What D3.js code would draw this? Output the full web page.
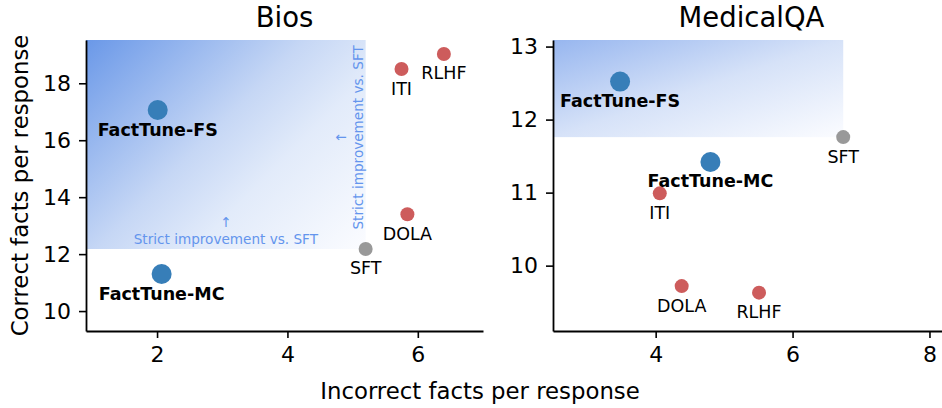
<!DOCTYPE html>
<html>
<head>
<meta charset="utf-8">
<script src="https://cdn.jsdelivr.net/npm/d3@7"></script>
<style>
  body { margin: 0; background: #fff; }
  svg text { font-family: "DejaVu Sans", sans-serif; }
</style>
</head>
<body>
<div id="chart-area"></div>
<script>
// values
const methods = ["FactTune-FS", "FactTune-MC", "ITI", "RLHF", "DOLA", "SFT"];
const methodKind = ["ours", "ours", "baseline", "baseline", "baseline", "sft"];

const biosIncorrect = [2.01, 2.07, 5.75, 6.40, 5.84, 5.20];
const biosCorrect   = [17.06, 11.30, 18.50, 19.03, 13.40, 12.18];

const medIncorrect = [3.48, 4.80, 4.06, 5.51, 4.38, 6.74];
const medCorrect   = [12.52, 11.42, 10.99, 9.63, 9.72, 11.76];

const biosXTicks = [2, 4, 6];
const biosYTicks = [10, 12, 14, 16, 18];
const medXTicks = [4, 6, 8];
const medYTicks = [10, 11, 12, 13];

const width = 942, height = 408;
const margin = {top: 40, bottom: 77};
const plotH = height - margin.top - margin.bottom;

const color = {ours: "#377eb8", baseline: "#cd5c5c", sft: "#999999"};
const radius = {ours: 10, baseline: 7, sft: 7};

const svg = d3.select("#chart-area")
  .append("svg")
    .attr("width", width)
    .attr("height", height);

const defs = svg.append("defs");

const panels = [
  {title: "Bios", left: 86, w: 397, xs: biosIncorrect, ys: biosCorrect,
   xDomain: [0.91, 7.0], yDomain: [9.3, 19.52], xTicks: biosXTicks, yTicks: biosYTicks,
   shade: ["#6a98e8", "#c6d7f5", "#e2ebfa", "#fbfcff"], stops: [0, 0.45, 0.65, 1], diag: true, notes: true},
  {title: "MedicalQA", left: 553, w: 397, xs: medIncorrect, ys: medCorrect,
   xDomain: [2.5, 8.3], yDomain: [9.105, 13.09], xTicks: medXTicks, yTicks: medYTicks,
   shade: ["#97b6ef", "#d6e2f8", "#fbfcff"], stops: [0, 0.5, 1], diag: false, notes: false}
];

panels.forEach((p, i) => {
  const x = d3.scaleLinear().domain(p.xDomain).range([0, p.w]);
  const y = d3.scaleLinear().domain(p.yDomain).range([plotH, 0]);

  const g = svg.append("g")
    .attr("transform", `translate(${p.left}, ${margin.top})`);

  // region that beats SFT on both axes
  const sftIdx = methods.indexOf("SFT");
  const rx = x(p.xs[sftIdx]), ry = y(p.ys[sftIdx]);
  const grad = defs.append("linearGradient").attr("id", "shade" + i);
  if (p.diag) {
    const d = (rx + ry) / 2;
    grad.attr("gradientUnits", "userSpaceOnUse")
      .attr("x1", 0).attr("y1", 0).attr("x2", d).attr("y2", d);
  } else {
    grad.attr("x1", 0).attr("y1", 0).attr("x2", 1).attr("y2", 1);
  }
  p.stops.forEach((s, k) => {
    grad.append("stop").attr("offset", s).attr("stop-color", p.shade[k]);
  });

  g.append("rect")
    .attr("x", 0).attr("y", 0)
    .attr("width", rx).attr("height", ry)
    .attr("fill", `url(#shade${i})`);

  if (p.notes) {
    const cx = x((p.xDomain[0] + p.xs[sftIdx]) / 2);
    const t = g.append("text")
      .attr("text-anchor", "middle")
      .attr("fill", "#6495ed")
      .style("font-size", "13.6px");
    t.append("tspan").attr("x", cx).attr("y", ry - 22).text("↑");
    t.append("tspan").attr("x", cx).attr("y", ry - 5).text("Strict improvement vs. SFT");

    const vy = y(16.1);
    const v = g.append("text")
      .attr("transform", `translate(${rx - 3}, ${vy}) rotate(-90)`)
      .attr("text-anchor", "middle")
      .attr("fill", "#6495ed")
      .style("font-size", "13.6px");
    v.append("tspan").attr("x", 0).attr("y", -17).text("↑");
    v.append("tspan").attr("x", 0).attr("y", 0).text("Strict improvement vs. SFT");
  }

  // axes
  const xa = g.append("g")
    .attr("transform", `translate(0, ${plotH})`)
    .call(d3.axisBottom(x).tickValues(p.xTicks).tickFormat(d3.format("d"))
      .tickSize(7).tickSizeOuter(0).tickPadding(8));
  const ya = g.append("g")
    .call(d3.axisLeft(y).tickValues(p.yTicks).tickFormat(d3.format("d"))
      .tickSize(7).tickSizeOuter(0).tickPadding(8));
  [xa, ya].forEach(a => {
    a.select(".domain").attr("stroke", "#000").attr("stroke-width", 1.8);
    a.selectAll(".tick line").attr("stroke", "#000").attr("stroke-width", 1.6);
    a.selectAll(".tick text")
      .attr("fill", "#000")
      .style("font-family", "DejaVu Sans, sans-serif")
      .style("font-size", "22px");
  });

  // points
  const pts = methods.map((m, k) => ({name: m, kind: methodKind[k], x: p.xs[k], y: p.ys[k]}));
  g.selectAll(".dot")
    .data(pts)
    .join("circle")
      .attr("class", "dot")
      .attr("cx", dd => x(dd.x))
      .attr("cy", dd => y(dd.y))
      .attr("r", dd => radius[dd.kind])
      .attr("fill", dd => color[dd.kind]);

  g.selectAll(".lbl")
    .data(pts)
    .join("text")
      .attr("class", "lbl")
      .attr("x", dd => x(dd.x))
      .attr("y", dd => y(dd.y) + 25.5)
      .attr("text-anchor", "middle")
      .style("font-size", "17.5px")
      .style("font-weight", dd => dd.kind === "ours" ? "bold" : "normal")
      .text(dd => dd.name);

  g.append("text")
    .attr("x", p.w / 2)
    .attr("y", 26.5 - margin.top)
    .attr("text-anchor", "middle")
    .style("font-size", "27.5px")
    .text(p.title);
});

svg.append("text")
  .attr("x", 480)
  .attr("y", 399)
  .attr("text-anchor", "middle")
  .style("font-size", "22.8px")
  .text("Incorrect facts per response");

svg.append("text")
  .attr("transform", `translate(28, ${margin.top + plotH / 2}) rotate(-90)`)
  .attr("text-anchor", "middle")
  .style("font-size", "22.8px")
  .text("Correct facts per response");
</script>
</body>
</html>
